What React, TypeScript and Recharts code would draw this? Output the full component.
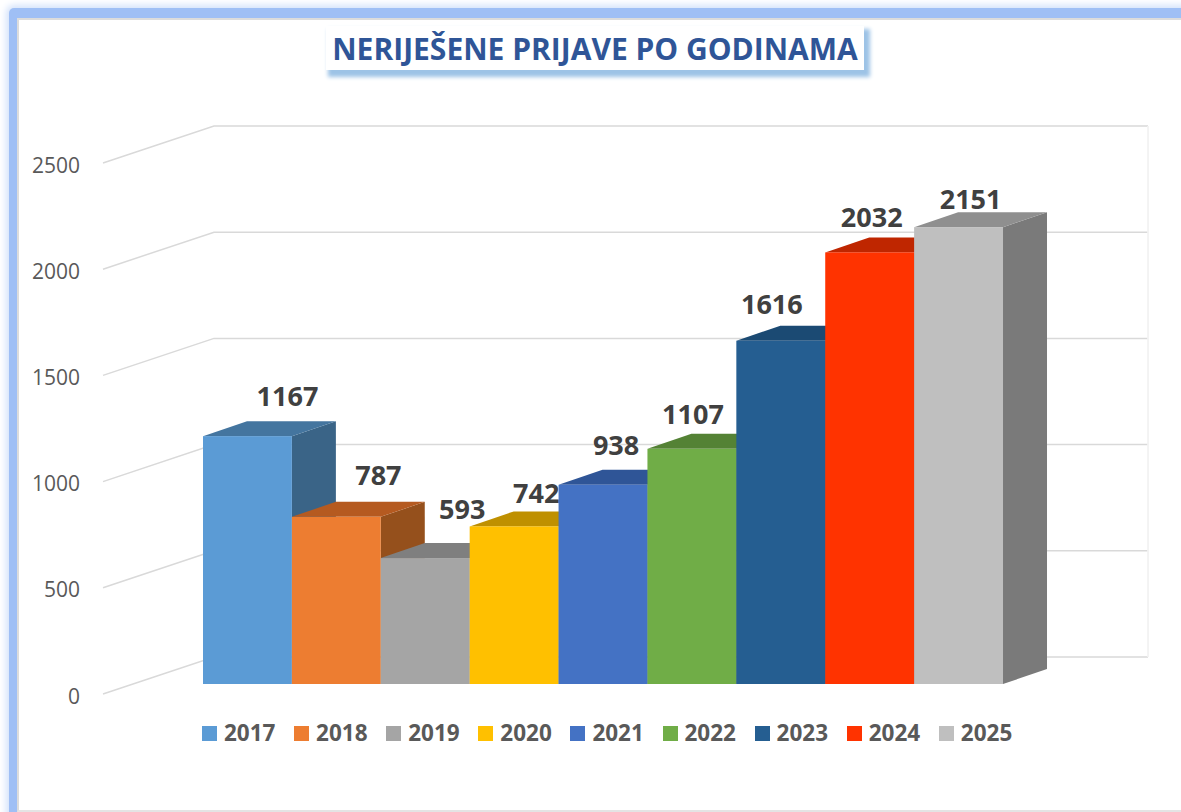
import { BarChart, Bar, XAxis, YAxis, CartesianGrid, Legend, LabelList } from "recharts";

const years = ["2017", "2018", "2019", "2020", "2021", "2022", "2023", "2024", "2025"];
const pending = [1167, 787, 593, 742, 938, 1107, 1616, 2032, 2151];
const yTicks = [0, 500, 1000, 1500, 2000, 2500];

const frontColors = ["#5B9BD5", "#ED7D31", "#A5A5A5", "#FFC000", "#4472C4", "#70AD47", "#255E91", "#FF3300", "#BFBFBF"];
const topColors = ["#44759F", "#B55A20", "#7F7F7F", "#BF9000", "#2F5597", "#548235", "#1B4A73", "#BF2600", "#8F8F8F"];
const sideColors = ["#3A6487", "#95501C", "#6E6E6E", "#A67C00", "#2A4A85", "#47702D", "#173F61", "#A32000", "#7A7A7A"];

// label nudges as the source chart places them by hand: [right of bar centre, above bar top]
const labelNudges = [
  [40, 41],
  [42, 42],
  [37, 50],
  [22, 34],
  [13, 40],
  [1, 35],
  [-9, 37],
  [2, 36],
  [12, 29],
];

const row: Record<string, string | number> = { name: "Neriješene prijave" };
years.forEach((year, i) => {
  row[year] = pending[i];
});
const data = [row];

const DEPTH_X = 44;
const DEPTH_Y = 15;
const WALL_DY = 27;
// recharts rounds the bar width up to 89, the source is about 88.9
const BAR_TRIM = 0.11;
const FONT = "'Open Sans', sans-serif";

function Bar3D(props: any) {
  const { y, height, index } = props;
  const d = index as number;
  const x = props.x - d * BAR_TRIM;
  const width = props.width - BAR_TRIM;
  const right = x + width;
  const bottom = y + height;
  return (
    <g>
      <polygon
        points={`${right},${y} ${right + DEPTH_X},${y - DEPTH_Y} ${right + DEPTH_X},${bottom - DEPTH_Y} ${right},${bottom}`}
        fill={sideColors[d]}
      />
      <polygon
        points={`${x},${y} ${x + DEPTH_X},${y - DEPTH_Y} ${right + DEPTH_X},${y - DEPTH_Y} ${right},${y}`}
        fill={topColors[d]}
      />
      <rect x={x} y={y} width={width} height={height} fill={frontColors[d]} />
    </g>
  );
}

function GridLine(props: any) {
  const { y1 } = props;
  const backY = y1 - WALL_DY;
  return (
    <polyline
      key={`grid-${y1}`}
      points={`103,${y1 + 10} 214,${backY} 1148,${backY}`}
      fill="none"
      stroke="#D9D9D9"
      strokeWidth={1.5}
    />
  );
}

function BackWallEdge(props: any) {
  return (
    <line
      key="wall-edge"
      x1={1148}
      x2={1148}
      y1={props.y1 - WALL_DY}
      y2={props.y2 - WALL_DY}
      stroke="#F2F2F2"
      strokeWidth={1}
    />
  );
}

function YTick(props: any) {
  const { y, payload } = props;
  return (
    <text x={80} y={y + 11.5} textAnchor="end" dominantBaseline="central" fontFamily={FONT} fontSize={21} fill="#595959">
      {payload.value}
    </text>
  );
}

function LegendRow(props: any) {
  const items = props.payload || [];
  return (
    <div style={{ position: "relative", width: 1181, height: 40 }}>
      {items.map((item: any, i: number) => (
        <div key={item.value} style={{ position: "absolute", left: 202 + i * 92.1, top: 0, height: 26, display: "flex", alignItems: "center" }}>
          <span style={{ width: 15, height: 15, background: frontColors[i], display: "inline-block", marginRight: 7 }} />
          <span style={{ fontFamily: FONT, fontWeight: 700, fontSize: 22.5, color: "#595959", lineHeight: "26px" }}>{item.value}</span>
        </div>
      ))}
    </div>
  );
}

export default function App() {
  return (
    <div style={{ position: "absolute", left: 0, top: 0, width: 1181, height: 812, overflow: "hidden", background: "#fff" }}>
      <div
        style={{
          position: "absolute",
          left: 9,
          top: 8,
          width: 1300,
          height: 900,
          background: "#9FBFF5",
          borderRadius: 5,
          boxShadow: "0 0 7px 3px #D3E2FB",
        }}
      />
      <div
        style={{
          position: "absolute",
          left: 17,
          top: 18,
          width: 1300,
          height: 794,
          background: "#fff",
          borderLeft: "2px solid #DCDCDC",
          borderTop: "2px solid #DCDCDC",
          borderBottom: "2px solid #E4E4E4",
          boxSizing: "border-box",
        }}
      />

      <div style={{ position: "absolute", left: 0, top: 0 }}>
        <BarChart
          width={1181}
          height={812}
          data={data}
          barCategoryGap={0}
          barGap={0}
          margin={{ top: 153, right: 178, bottom: 128, left: 123 }}
        >
          <CartesianGrid horizontal={GridLine} vertical={BackWallEdge} />
          <XAxis dataKey="name" hide />
          <YAxis
            width={80}
            domain={[0, 2500]}
            ticks={yTicks}
            axisLine={false}
            tickLine={false}
            tick={YTick}
          />
          <Legend
            layout="horizontal"
            verticalAlign="middle"
            wrapperStyle={{ left: 0, top: 720, width: 1181 }}
            content={LegendRow}
          />
          {years.map((year, i) => (
            <Bar
              key={year}
              dataKey={year}
              fill={frontColors[i]}
              isAnimationActive={false}
              shape={(p: any) => <Bar3D {...p} index={i} />}
            >
              <LabelList
                dataKey={year}
                content={(p: any) => (
                  <text
                    x={p.x + p.width / 2 + labelNudges[i][0] - i * BAR_TRIM}
                    y={p.y - labelNudges[i][1]}
                    textAnchor="middle"
                    dominantBaseline="central"
                    fontFamily={FONT}
                    fontWeight={700}
                    fontSize={27}
                    fill="#404040"
                  >
                    {p.value}
                  </text>
                )}
              />
            </Bar>
          ))}
        </BarChart>
      </div>

      <div
        style={{
          position: "absolute",
          left: 326,
          top: 26,
          width: 538,
          height: 44,
          background: "#fff",
          boxShadow: "4px 5px 4px 2px #9DC3E6",
          display: "flex",
          alignItems: "center",
          justifyContent: "center",
          fontFamily: FONT,
          fontWeight: 700,
          fontSize: 30,
          color: "#2F5597",
          whiteSpace: "nowrap",
        }}
      >
        NERIJEŠENE PRIJAVE PO GODINAMA
      </div>
    </div>
  );
}
